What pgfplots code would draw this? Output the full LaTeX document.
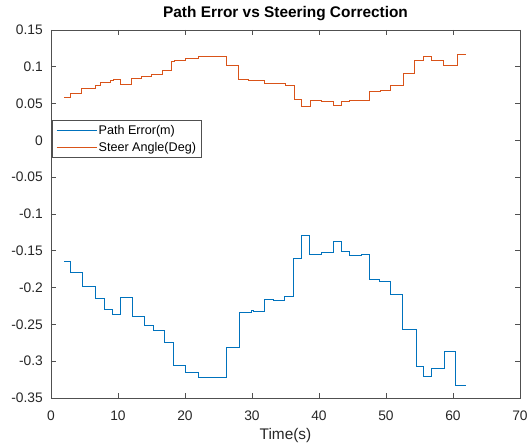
\documentclass[border=0pt]{standalone}
\usepackage{fontspec}
\setmainfont{Liberation Sans}
\usepackage{pgfplots}
\pgfplotsset{compat=1.18}
\usetikzlibrary{calc}
\definecolor{mblue}{HTML}{0072BD}
\definecolor{morange}{HTML}{D95319}
\definecolor{axisgray}{HTML}{505050}
\definecolor{textgray}{HTML}{262626}

\begin{document}
\begin{tikzpicture}
\begin{axis}[
    scale only axis,
    width=469pt, height=368pt,
    xmin=0, xmax=70, ymin=-0.35, ymax=0.15,
    xtick={0,10,...,70},
    ytick={-0.35,-0.3,-0.25,-0.2,-0.15,-0.1,-0.05,0,0.05,0.1,0.15},
    scaled y ticks=false,
    yticklabel={\pgfmathprintnumber[fixed,precision=2,assume math mode=true]{\tick}},
    xticklabel={\pgfmathprintnumber[assume math mode=true]{\tick}},
    tick align=inside,
    major tick length=5pt,
    axis line style={axisgray, line width=0.6pt},
    tick style={axisgray, line width=0.6pt},
    ticklabel style={font=\fontsize{13.8}{16}\selectfont, text=textgray, inner sep=0pt},
    xticklabel style={anchor=base, yshift=-22.5pt},
    yticklabel style={anchor=east, xshift=-8pt},
    title={Path Error vs Steering Correction},
    title style={font=\bfseries\fontsize{15.4}{18}\selectfont, text=black, at={(axis description cs:0.5,1)}, anchor=base, yshift=6pt, inner sep=0pt},
    xlabel={Time(s)},
    x label style={font=\fontsize{15.4}{18}\selectfont, text=textgray, at={(axis description cs:0.5,0)}, anchor=base, yshift=-42pt, inner sep=0pt},
    legend style={at={(rel axis cs:0.002,0.755)}, anchor=north west, draw=axisgray, line width=0.6pt, fill=white,
        font=\fontsize{12.6}{15}\selectfont, text=black, inner xsep=4pt, inner ysep=3.5pt, row sep=3pt,
        nodes={inner sep=1.5pt}},
    legend cell align=left,
    legend image code/.code={\draw[#1] (0pt,0pt) -- (40pt,0pt);},
]
\coordinate (sw) at (rel axis cs:0,0);

% Path Error (m)
\addplot[const plot mark left, draw=mblue, line width=0.9pt] coordinates {
(2.0,-0.1648) (2.9,-0.1798) (4.7,-0.1979) (6.7,-0.2146) (8.0,-0.2296)
(9.15,-0.2364) (10.3,-0.2133) (12.14,-0.2396) (13.9,-0.2509) (15.3,-0.2586)
(17.0,-0.2746) (18.3,-0.306) (20.0,-0.315) (22.0,-0.322) (26.2,-0.281)
(28.1,-0.2333) (29.95,-0.2314) (30.2,-0.2323) (31.8,-0.2157) (33.2,-0.2181)
(34.9,-0.2115) (36.2,-0.1610) (37.4,-0.1292) (38.6,-0.1546) (40.3,-0.1519)
(42.1,-0.1367) (43.4,-0.1508) (44.6,-0.1560) (46.4,-0.1544) (46.7,-0.1553)
(47.5,-0.1886) (49.0,-0.1911) (50.6,-0.2090) (52.5,-0.2570) (54.5,-0.3075)
(55.6,-0.3211) (56.8,-0.3097) (58.7,-0.2871) (60.4,-0.3324) (62.0,-0.3324)
};
\addlegendentry{Path Error(m)}

% Steer Angle (Deg)
\addplot[const plot mark left, draw=morange, line width=0.9pt] coordinates {
(2.0,0.058) (2.84,0.064) (4.58,0.070) (6.57,0.075) (7.31,0.079)
(8.8,0.081) (9.3,0.0825) (10.3,0.0757) (12.04,0.0843) (13.5,0.0875)
(15.0,0.090) (16.7,0.0957) (18.0,0.107) (18.5,0.108) (20.0,0.1115)
(22.0,0.1142) (26.2,0.1015) (27.96,0.0825) (29.5,0.082) (31.9,0.0775)
(35.0,0.0753) (36.3,0.0558) (37.4,0.0458) (38.7,0.054) (40.4,0.0535)
(42.1,0.048) (43.4,0.0526) (44.6,0.0549) (47.6,0.0671) (49.1,0.0685)
(50.6,0.0744) (52.6,0.0911) (54.3,0.1083) (55.6,0.1137) (56.8,0.1092)
(58.6,0.1024) (60.6,0.1174) (62.0,0.1174)
};
\addlegendentry{Steer Angle(Deg)}
\end{axis}
\pgfresetboundingbox
\path[use as bounding box] ($(sw)+(-51pt,-46pt)$) rectangle ++(528pt,444pt);
\end{tikzpicture}
\end{document}
